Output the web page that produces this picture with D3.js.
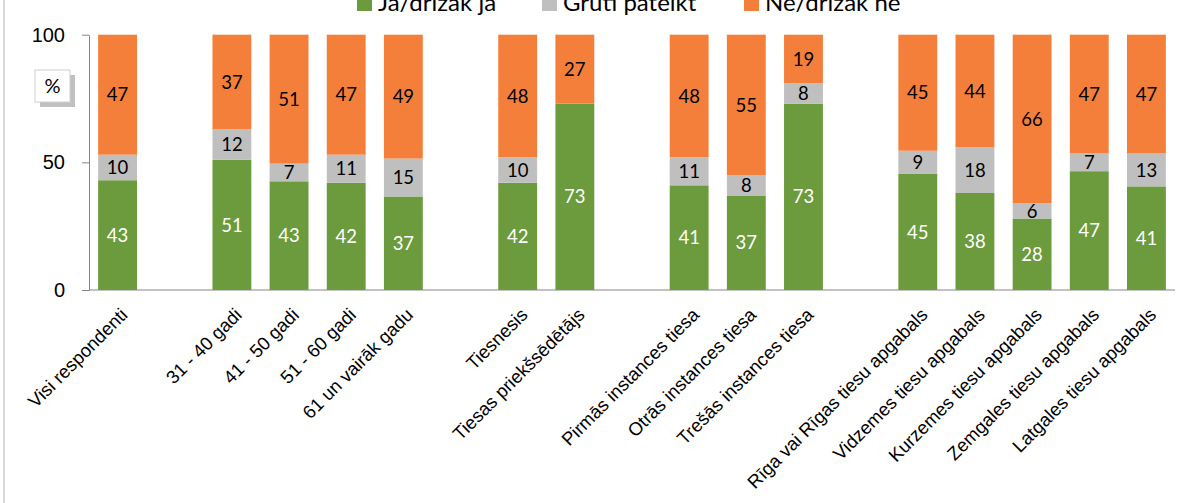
<!DOCTYPE html>
<html>
<head>
<meta charset="utf-8">
<script src="https://cdn.jsdelivr.net/npm/d3@7"></script>
<style>
  body { margin: 0; background: #fff; }
  svg { display: block; font-family: Lato, "Open Sans", sans-serif; }
  .axis path, .axis line { stroke: #868686; }
  .axis text { fill: #000; }
</style>
</head>
<body>
<div id="chart"></div>
<script>
// kategorijas (null = tukša vieta starp grupām)
const categories = [
  "Visi respondenti", null,
  "31 - 40 gadi", "41 - 50 gadi", "51 - 60 gadi", "61 un vairāk gadu", null,
  "Tiesnesis", "Tiesas priekšsēdētājs", null,
  "Pirmās instances tiesa", "Otrās instances tiesa", "Trešās instances tiesa", null,
  "Rīga vai Rīgas tiesu apgabals", "Vidzemes tiesu apgabals", "Kurzemes tiesu apgabals",
  "Zemgales tiesu apgabals", "Latgales tiesu apgabals"
];
const yes  = [43, null, 51, 43, 42, 37, null, 42, 73, null, 41, 37, 73, null, 45, 38, 28, 47, 41];
const hard = [10, null, 12,  7, 11, 15, null, 10,  0, null, 11,  8,  8, null,  9, 18,  6,  7, 13];
const no   = [47, null, 37, 51, 47, 49, null, 48, 27, null, 48, 55, 19, null, 45, 44, 66, 47, 47];
const seriesNames = ["Jā/drīzāk jā", "Grūti pateikt", "Nē/drīzāk nē"];
const seriesColors = ["#6b9b3c", "#bfbfbf", "#f47f3b"];
const yTicks = [0, 50, 100];

const width = 1195, height = 503;
const margin = { top: 34.7, right: 20, bottom: 213, left: 89 };

const svg = d3.select('#chart').append('svg')
  .attr('width', width)
  .attr('height', height);

svg.append('rect').attr('width', width).attr('height', height).attr('fill', '#fff');

// rāmja kreisā mala
svg.append('line')
  .attr('x1', 4).attr('x2', 4).attr('y1', 0).attr('y2', height)
  .attr('stroke', '#d9d9d9').attr('stroke-width', 2);

const x = d3.scaleBand()
  .domain(d3.range(categories.length))
  .range([margin.left, width - margin.right])
  .paddingInner(0.32)
  .paddingOuter(0.16);

const y = d3.scaleLinear()
  .domain([0, 100])
  .range([height - margin.bottom, margin.top]);

// dati kaudzei
const rows = categories.map((c, i) => ({ i, c, s0: yes[i], s1: hard[i], s2: no[i] }))
  .filter(d => d.c !== null);

const stack = d3.stack()
  .keys(['s0', 's1', 's2'])
  .offset(d3.stackOffsetExpand);
const layers = stack(rows);

const barsG = svg.append('g');
layers.forEach((layer, k) => {
  const g = barsG.append('g').attr('fill', seriesColors[k]);
  g.selectAll('rect')
    .data(layer.filter(d => d.data[layer.key] > 0))
    .join('rect')
    .attr('x', d => x(d.data.i))
    .attr('width', x.bandwidth())
    .attr('y', d => y(d[1] * 100))
    .attr('height', d => y(d[0] * 100) - y(d[1] * 100));

  g.selectAll('text')
    .data(layer.filter(d => d.data[layer.key] > 0))
    .join('text')
    .attr('x', d => x(d.data.i) + x.bandwidth() / 2)
    .attr('y', d => y((d[0] + d[1]) * 50))
    .attr('dy', '0.36em')
    .attr('text-anchor', 'middle')
    .attr('font-size', 18.5)
    .attr('fill', k === 0 ? '#fff' : '#000')
    .text(d => d.data[layer.key]);
});

// Y ass
const yAxis = svg.append('g')
  .attr('class', 'axis')
  .attr('transform', `translate(${margin.left},0)`)
  .call(d3.axisLeft(y).tickValues(yTicks).tickSize(7).tickPadding(17).tickSizeOuter(0));
yAxis.selectAll('text').attr('font-size', 20);

// X ass
const xAxis = svg.append('g')
  .attr('class', 'axis')
  .attr('transform', `translate(0,${y(0)})`)
  .call(d3.axisBottom(x).tickSize(0).tickSizeOuter(0).tickFormat(i => categories[i] || ''));
xAxis.select('.domain').attr('d', `M${margin.left},0H${width - margin.right}`);
xAxis.selectAll('text')
  .attr('font-size', 18.5)
  .attr('text-anchor', 'end')
  .attr('x', 0)
  .attr('y', 0)
  .attr('dy', 0)
  .attr('transform', 'translate(11,26) rotate(-45)');

// "%" lodziņš
svg.append('rect').attr('x', 40).attr('y', 75).attr('width', 35).attr('height', 32).attr('fill', '#c0c0c0');
svg.append('rect').attr('x', 35).attr('y', 70).attr('width', 35).attr('height', 32)
  .attr('fill', '#fff').attr('stroke', '#d0d0d0');
svg.append('text').attr('x', 52.5).attr('y', 86).attr('dy', '0.35em')
  .attr('text-anchor', 'middle').attr('font-size', 20).text('%');

// leģenda (augšā nogriezta)
const legendX = [357, 542, 744];
const legend = svg.append('g');
seriesNames.forEach((name, k) => {
  legend.append('rect')
    .attr('x', legendX[k]).attr('y', -4)
    .attr('width', 15).attr('height', 15)
    .attr('fill', seriesColors[k]);
  legend.append('text')
    .attr('x', legendX[k] + 21).attr('y', 11)
    .attr('font-size', 24)
    .text(name);
});
</script>
</body>
</html>
